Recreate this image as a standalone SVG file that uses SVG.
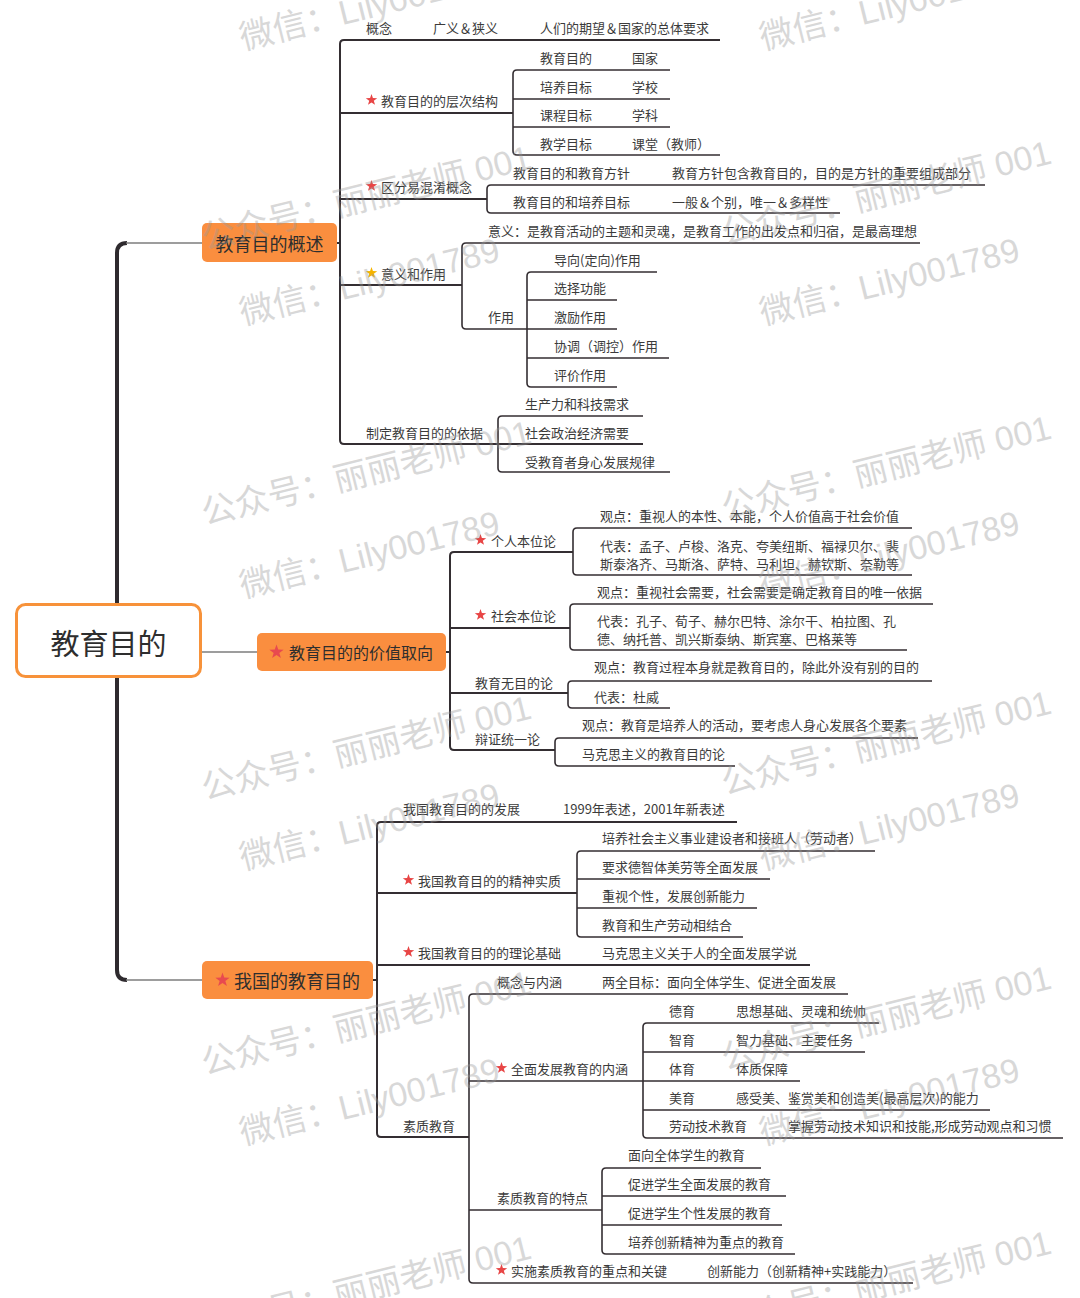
<svg xmlns="http://www.w3.org/2000/svg" xmlns:xlink="http://www.w3.org/1999/xlink" width="1080" height="1298" viewBox="0 0 1080 1298">
<defs>
<style>
.t{font-family:"Noto Sans CJK SC","Noto Sans",sans-serif;font-size:13px;fill:#3b3b3b;dominant-baseline:central}
.h{font-family:"Noto Sans CJK SC","Noto Sans",sans-serif;fill:#2e2e2e;dominant-baseline:central}
.l1{stroke:#342e32;stroke-width:2;fill:none}
.l2{stroke:#342e32;stroke-width:1.6;fill:none}
.lg{stroke:#7d7d7d;stroke-width:1.5;fill:none}
.box{fill:#fa8e3f}
.wm{font-family:"Liberation Sans","Noto Sans CJK SC",sans-serif;font-size:34px;fill:#9a9a9a;opacity:0.38}
</style>
<path id="star" d="M0,-6 L1.41,-1.94 L5.71,-1.85 L2.28,0.74 L3.53,4.85 L0,2.4 L-3.53,4.85 L-2.28,0.74 L-5.71,-1.85 L-1.41,-1.94 Z"/>
</defs>
<rect width="1080" height="1298" fill="#ffffff"/>

<g id="connectors">
<path d="M127 243 Q117 243 117 253 V970 Q117 980 127 980" stroke="#2e2a2e" stroke-width="4" fill="none"/>
<path class="lg" d="M126 243 H203 M126 980 H203 M201 652 H257"/>
<!-- group 1 -->
<path class="l1" d="M720 40 H344 Q340 40 340 44 V440 Q340 444 344 444 H643 M340 113 H513 M340 199 H487 M340 285 H462 M337 243 H340"/>
<path class="l2" d="M670 70 H517 Q513 70 513 74 V151 Q513 155 517 155 H720 M513 99 H670 M513 127 H670"/>
<path class="l2" d="M985 185 H491 Q487 185 487 189 V209 Q487 213 491 213 H840"/>
<path class="l2" d="M920 243 H466 Q462 243 462 247 V325 Q462 329 466 329 H617"/>
<path class="l2" d="M657 272 H531 Q527 272 527 276 V383 Q527 387 531 387 H617 M527 300 H617 M527 358 H669"/>
<path class="l2" d="M643 416 H502 Q498 416 498 420 V468 Q498 472 502 472 H670"/>
<!-- group 2 -->
<path class="l1" d="M573 552 H454 Q450 552 450 556 V746 Q450 750 454 750 H555 M450 628 H570 M450 693 H568 M445 652 H450"/>
<path class="l2" d="M912 528 H577 Q573 528 573 532 V571 Q573 575 577 575 H912"/>
<path class="l2" d="M933 604 H574 Q570 604 570 608 V646 Q570 650 574 650 H907"/>
<path class="l2" d="M932 681 H572 Q568 681 568 685 V704 Q568 708 572 708 H670"/>
<path class="l2" d="M918 738 H559 Q555 738 555 742 V762 Q555 766 559 766 H735"/>
<!-- group 3 -->
<path class="l1" d="M737 822 H381 Q377 822 377 826 V1133 Q377 1137 381 1137 H469 M377 893 H577 M377 965 H810 M373 980 H377"/>
<path class="l2" d="M875 851 H581 Q577 851 577 855 V933 Q577 937 581 937 H743 M577 879 H770 M577 908 H757"/>
<path class="l2" d="M848 994 H473 Q469 994 469 998 V1279 Q469 1283 473 1283 H913 M469 1081 H800 M469 1210 H602"/>
<path class="l2" d="M879 1023 H647 Q643 1023 643 1027 V1134 Q643 1138 647 1138 H1063 M643 1052 H865 M643 1110 H990"/>
<path class="l2" d="M761 1168 H606 Q602 1168 602 1172 V1250 Q602 1254 606 1254 H795 M602 1196 H786 M602 1225 H782"/>
</g>

<g id="root">
<rect x="16.5" y="604.5" width="184" height="72" rx="9" fill="#ffffff" stroke="#f7923a" stroke-width="3"/>
<text class="h" x="108.5" y="642" font-size="29" text-anchor="middle">教育目的</text>
</g>

<g id="n-overview">
<rect class="box" x="202" y="223" width="135" height="39" rx="5"/>
<text class="h" x="269.5" y="243" font-size="18" text-anchor="middle">教育目的概述</text>
</g>
<g id="n-value">
<rect class="box" x="257" y="633" width="189" height="38" rx="5"/>
<use xlink:href="#star" transform="translate(276.5,652) scale(1.25)" fill="#e84a4f"/>
<text class="h" x="289" y="652" font-size="16">教育目的的价值取向</text>
</g>
<g id="n-china">
<rect class="box" x="202" y="961" width="171" height="38" rx="5"/>
<use xlink:href="#star" transform="translate(222.5,980) scale(1.25)" fill="#e84a4f"/>
<text class="h" x="234" y="980" font-size="18">我国的教育目的</text>
</g>

<!-- group 1 topics -->
<g id="t-concept"><text class="t" x="366" y="27">概念</text><text class="t" x="433" y="27">广义＆狭义</text><text class="t" x="540" y="27">人们的期望＆国家的总体要求</text></g>
<g id="t-levels"><use xlink:href="#star" x="371.5" y="100" fill="#e84545"/><text class="t" x="381" y="100">教育目的的层次结构</text></g>
<g id="t-lv1"><text class="t" x="540" y="57">教育目的</text><text class="t" x="632" y="57">国家</text></g>
<g id="t-lv2"><text class="t" x="540" y="86">培养目标</text><text class="t" x="632" y="86">学校</text></g>
<g id="t-lv3"><text class="t" x="540" y="114">课程目标</text><text class="t" x="632" y="114">学科</text></g>
<g id="t-lv4"><text class="t" x="540" y="143">教学目标</text><text class="t" x="632" y="143">课堂（教师）</text></g>
<g id="t-confuse"><use xlink:href="#star" x="371.5" y="186" fill="#e84545"/><text class="t" x="381" y="186">区分易混淆概念</text></g>
<g id="t-cf1"><text class="t" x="513" y="172">教育目的和教育方针</text><text class="t" x="672" y="172">教育方针包含教育目的，目的是方针的重要组成部分</text></g>
<g id="t-cf2"><text class="t" x="513" y="201">教育目的和培养目标</text><text class="t" x="672" y="201">一般＆个别，唯一＆多样性</text></g>
<g id="t-meaning"><use xlink:href="#star" x="371.5" y="273" fill="#f5b400"/><text class="t" x="381" y="273">意义和作用</text></g>
<g id="t-mean1"><text class="t" x="488" y="230">意义：是教育活动的主题和灵魂，是教育工作的出发点和归宿，是最高理想</text></g>
<g id="t-role"><text class="t" x="488" y="316">作用</text></g>
<g id="t-r1"><text class="t" x="554" y="259">导向(定向)作用</text></g>
<g id="t-r2"><text class="t" x="554" y="287">选择功能</text></g>
<g id="t-r3"><text class="t" x="554" y="316">激励作用</text></g>
<g id="t-r4"><text class="t" x="554" y="345">协调（调控）作用</text></g>
<g id="t-r5"><text class="t" x="554" y="374">评价作用</text></g>
<g id="t-basis"><text class="t" x="366" y="432">制定教育目的的依据</text></g>
<g id="t-b1"><text class="t" x="525" y="403">生产力和科技需求</text></g>
<g id="t-b2"><text class="t" x="525" y="432">社会政治经济需要</text></g>
<g id="t-b3"><text class="t" x="525" y="461">受教育者身心发展规律</text></g>

<!-- group 2 topics -->
<g id="t-indiv"><use xlink:href="#star" x="480.5" y="540" fill="#e84545"/><text class="t" x="491" y="540">个人本位论</text></g>
<g id="t-in1"><text class="t" x="600" y="515">观点：重视人的本性、本能，个人价值高于社会价值</text></g>
<g id="t-in2"><text class="t" x="600" y="545">代表：孟子、卢梭、洛克、夸美纽斯、福禄贝尔、裴</text><text class="t" x="600" y="563">斯泰洛齐、马斯洛、萨特、马利坦、赫钦斯、奈勒等</text></g>
<g id="t-soc"><use xlink:href="#star" x="480.5" y="615" fill="#e84545"/><text class="t" x="491" y="615">社会本位论</text></g>
<g id="t-so1"><text class="t" x="597" y="591">观点：重视社会需要，社会需要是确定教育目的唯一依据</text></g>
<g id="t-so2"><text class="t" x="597" y="620">代表：孔子、荀子、赫尔巴特、涂尔干、柏拉图、孔</text><text class="t" x="597" y="638">德、纳托普、凯兴斯泰纳、斯宾塞、巴格莱等</text></g>
<g id="t-none"><text class="t" x="475" y="682">教育无目的论</text></g>
<g id="t-no1"><text class="t" x="594" y="666">观点：教育过程本身就是教育目的，除此外没有别的目的</text></g>
<g id="t-no2"><text class="t" x="594" y="696">代表：杜威</text></g>
<g id="t-dial"><text class="t" x="475" y="738">辩证统一论</text></g>
<g id="t-di1"><text class="t" x="582" y="724">观点：教育是培养人的活动，要考虑人身心发展各个要素</text></g>
<g id="t-di2"><text class="t" x="582" y="753">马克思主义的教育目的论</text></g>

<!-- group 3 topics -->
<g id="t-dev"><text class="t" x="403" y="808">我国教育目的的发展</text><text class="t" x="563" y="808">1999年表述，2001年新表述</text></g>
<g id="t-spirit"><use xlink:href="#star" x="408.5" y="880" fill="#e84545"/><text class="t" x="418" y="880">我国教育目的的精神实质</text></g>
<g id="t-sp1"><text class="t" x="602" y="837">培养社会主义事业建设者和接班人（劳动者）</text></g>
<g id="t-sp2"><text class="t" x="602" y="866">要求德智体美劳等全面发展</text></g>
<g id="t-sp3"><text class="t" x="602" y="895">重视个性，发展创新能力</text></g>
<g id="t-sp4"><text class="t" x="602" y="924">教育和生产劳动相结合</text></g>
<g id="t-theory"><use xlink:href="#star" x="408.5" y="952" fill="#e84545"/><text class="t" x="418" y="952">我国教育目的的理论基础</text><text class="t" x="602" y="952">马克思主义关于人的全面发展学说</text></g>
<g id="t-quality"><text class="t" x="403" y="1125">素质教育</text></g>
<g id="t-q-concept"><text class="t" x="497" y="981">概念与内涵</text><text class="t" x="602" y="981">两全目标：面向全体学生、促进全面发展</text></g>
<g id="t-allround"><use xlink:href="#star" x="501.5" y="1068" fill="#e84545"/><text class="t" x="511" y="1068">全面发展教育的内涵</text></g>
<g id="t-ar1"><text class="t" x="669" y="1010">德育</text><text class="t" x="736" y="1010">思想基础、灵魂和统帅</text></g>
<g id="t-ar2"><text class="t" x="669" y="1039">智育</text><text class="t" x="736" y="1039">智力基础、主要任务</text></g>
<g id="t-ar3"><text class="t" x="669" y="1068">体育</text><text class="t" x="736" y="1068">体质保障</text></g>
<g id="t-ar4"><text class="t" x="669" y="1097">美育</text><text class="t" x="736" y="1097">感受美、鉴赏美和创造美(最高层次)的能力</text></g>
<g id="t-ar5"><text class="t" x="669" y="1125">劳动技术教育</text><text class="t" x="788" y="1125">掌握劳动技术知识和技能,形成劳动观点和习惯</text></g>
<g id="t-feat"><text class="t" x="497" y="1197">素质教育的特点</text></g>
<g id="t-f1"><text class="t" x="628" y="1154">面向全体学生的教育</text></g>
<g id="t-f2"><text class="t" x="628" y="1183">促进学生全面发展的教育</text></g>
<g id="t-f3"><text class="t" x="628" y="1212">促进学生个性发展的教育</text></g>
<g id="t-f4"><text class="t" x="628" y="1241">培养创新精神为重点的教育</text></g>
<g id="t-key"><use xlink:href="#star" x="501.5" y="1270" fill="#e84545"/><text class="t" x="511" y="1270">实施素质教育的重点和关键</text><text class="t" x="707" y="1270">创新能力（创新精神+实践能力）</text></g>

<g id="watermarks">
<text class="wm" transform="translate(243,50) rotate(-14)">微信：Lily001789</text>
<text class="wm" transform="translate(763,50) rotate(-14)">微信：Lily001789</text>
<text class="wm" transform="translate(205,250) rotate(-14)">公众号：丽丽老师 001</text>
<text class="wm" transform="translate(725,245) rotate(-14)">公众号：丽丽老师 001</text>
<text class="wm" transform="translate(243,325) rotate(-14)">微信：Lily001789</text>
<text class="wm" transform="translate(763,325) rotate(-14)">微信：Lily001789</text>
<text class="wm" transform="translate(205,525) rotate(-14)">公众号：丽丽老师 001</text>
<text class="wm" transform="translate(725,520) rotate(-14)">公众号：丽丽老师 001</text>
<text class="wm" transform="translate(243,598) rotate(-14)">微信：Lily001789</text>
<text class="wm" transform="translate(763,598) rotate(-14)">微信：Lily001789</text>
<text class="wm" transform="translate(205,800) rotate(-14)">公众号：丽丽老师 001</text>
<text class="wm" transform="translate(725,795) rotate(-14)">公众号：丽丽老师 001</text>
<text class="wm" transform="translate(243,870) rotate(-14)">微信：Lily001789</text>
<text class="wm" transform="translate(763,870) rotate(-14)">微信：Lily001789</text>
<text class="wm" transform="translate(205,1075) rotate(-14)">公众号：丽丽老师 001</text>
<text class="wm" transform="translate(725,1070) rotate(-14)">公众号：丽丽老师 001</text>
<text class="wm" transform="translate(243,1145) rotate(-14)">微信：Lily001789</text>
<text class="wm" transform="translate(763,1145) rotate(-14)">微信：Lily001789</text>
<text class="wm" transform="translate(205,1340) rotate(-14)">公众号：丽丽老师 001</text>
<text class="wm" transform="translate(725,1335) rotate(-14)">公众号：丽丽老师 001</text>
</g>
</svg>
